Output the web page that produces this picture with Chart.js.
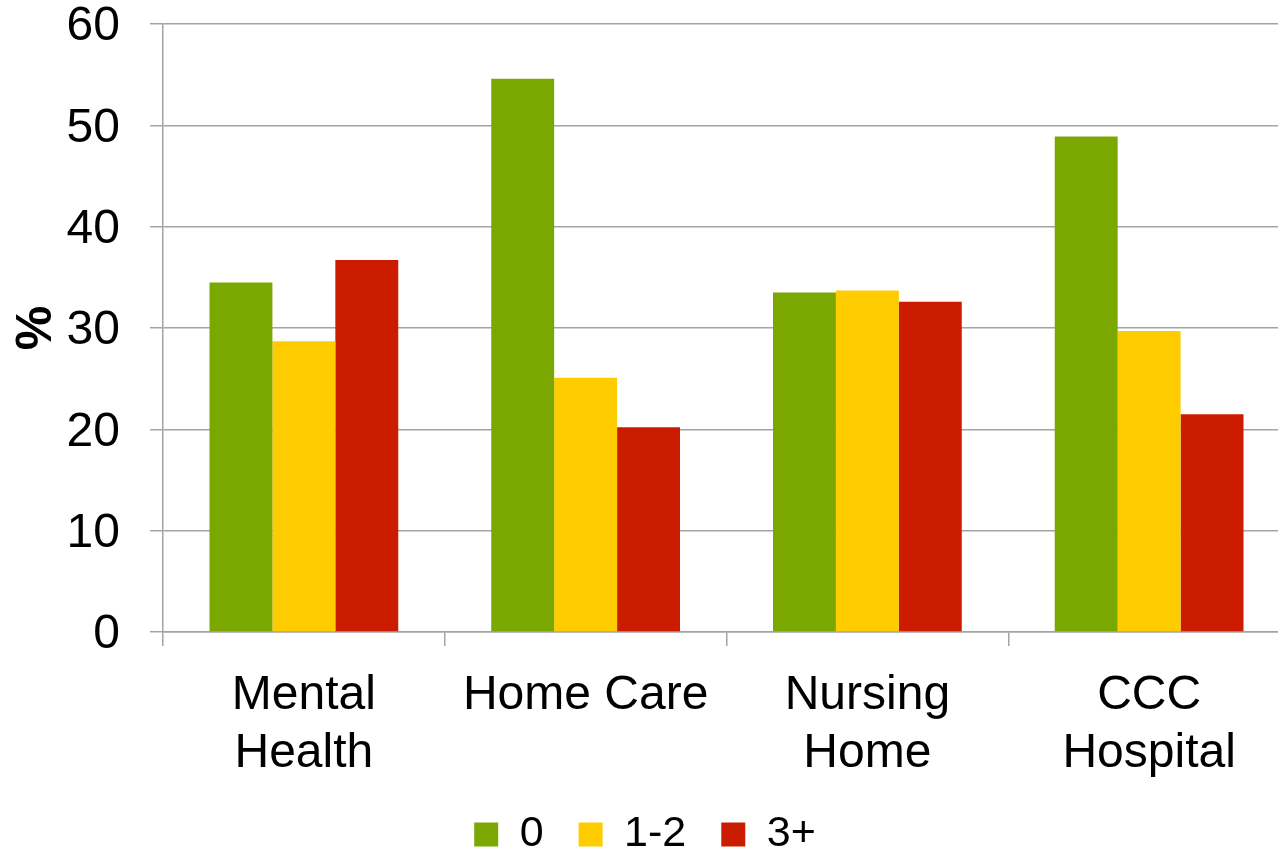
<!DOCTYPE html>
<html>
<head>
<meta charset="utf-8">
<script src="https://cdn.jsdelivr.net/npm/chart.js@4/dist/chart.umd.min.js"></script>
<style>
  html, body { margin: 0; padding: 0; background: #fff; overflow: hidden; height: 855px; }
  #wrap { width: 1292px; height: 884px; margin-top: -18px; }
</style>
</head>
<body>
<div id="wrap"><canvas id="chart"></canvas></div>
<script>
// care settings and share (%) per group
const settings = [["Mental", "Health"], "Home Care", ["Nursing", "Home"], ["CCC", "Hospital"]];
const groupLabels = ["0", "1-2", "3+"];
const zeroValues = [34.5, 54.6, 33.5, 48.9];
const oneTwoValues = [28.7, 25.1, 33.7, 29.7];
const threePlusValues = [36.7, 20.2, 32.6, 21.5];
const yTicks = [0, 10, 20, 30, 40, 50, 60];

const colors = ["#7aa800", "#ffcc00", "#cc1c00"];
const font = "'Liberation Sans', Arial, sans-serif";
const gridGray = "#a4a4a4";

new Chart(document.getElementById("chart"), {
  type: "bar",
  data: {
    labels: settings,
    datasets: [zeroValues, oneTwoValues, threePlusValues].map((vals, i) => ({
      label: groupLabels[i],
      data: vals,
      backgroundColor: colors[i],
      borderWidth: 0,
      categoryPercentage: 0.67,
      barPercentage: 1.0
    }))
  },
  options: {
    responsive: true,
    maintainAspectRatio: false,
    animation: false,
    layout: { padding: { top: 0, right: 2, left: 0, bottom: 0 } },
    plugins: {
      tooltip: { enabled: false },
      legend: {
        position: "bottom",
        labels: {
          color: "#000",
          boxWidth: 24,
          boxHeight: 24,
          padding: 35,
          font: { family: font, size: 43 }
        }
      }
    },
    scales: {
      x: {
        afterFit: scale => { scale.height = 146; },
        grid: {
          offset: true,
          drawOnChartArea: false,
          drawTicks: true,
          tickLength: 14,
          color: gridGray,
          lineWidth: 1.5
        },
        border: { color: gridGray, width: 1.5 },
        ticks: {
          color: "#000",
          padding: 21,
          maxRotation: 0,
          font: { family: font, size: 48, lineHeight: 1.2 }
        }
      },
      y: {
        min: 0,
        max: 60,
        afterBuildTicks: axis => { axis.ticks = yTicks.map(v => ({ value: v })); },
        afterFit: scale => { scale.width = 163; },
        grid: {
          color: gridGray,
          lineWidth: 1.5,
          tickLength: 13
        },
        border: { color: gridGray, width: 1.5 },
        ticks: {
          color: "#000",
          padding: 30,
          labelOffset: 3,
          font: { family: font, size: 48, lineHeight: 0.5 }
        },
        title: {
          display: true,
          text: "%",
          color: "#000",
          padding: { top: 7, bottom: 0 },
          font: { family: font, size: 50, weight: "bold" }
        }
      }
    }
  }
});
</script>
</body>
</html>
